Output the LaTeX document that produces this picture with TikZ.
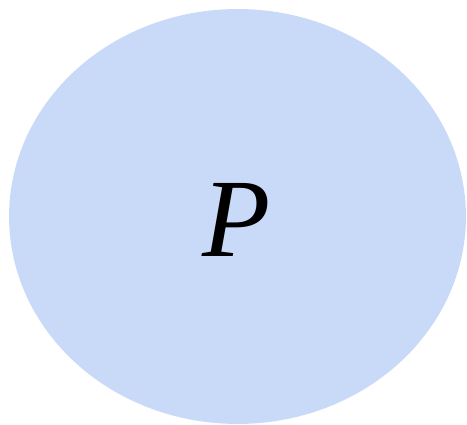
\documentclass[tikz,border=0pt]{standalone}
\usepackage{fontspec}
\usepackage{tikz}
\usetikzlibrary{shapes.geometric}
\newfontfamily\labelfont{Liberation Serif}
\definecolor{blobblue}{HTML}{C9DAF8}

\begin{document}
\begin{tikzpicture}[
    x=0.02cm, y=-0.02cm,
    blob/.style={ellipse, fill=blobblue, draw=none, minimum width=9.14cm, minimum height=8.3cm, inner sep=0pt},
]
% Canvas
\useasboundingbox (0,0) rectangle (467,425);

% Ellipse
\node[blob] (setp) at (237.5,216.5) {};

% Label
\node[inner sep=0pt, font=\labelfont\itshape\fontsize{63.5}{70}\selectfont] (plabel) at (237,220) {P};
\end{tikzpicture}
\end{document}
